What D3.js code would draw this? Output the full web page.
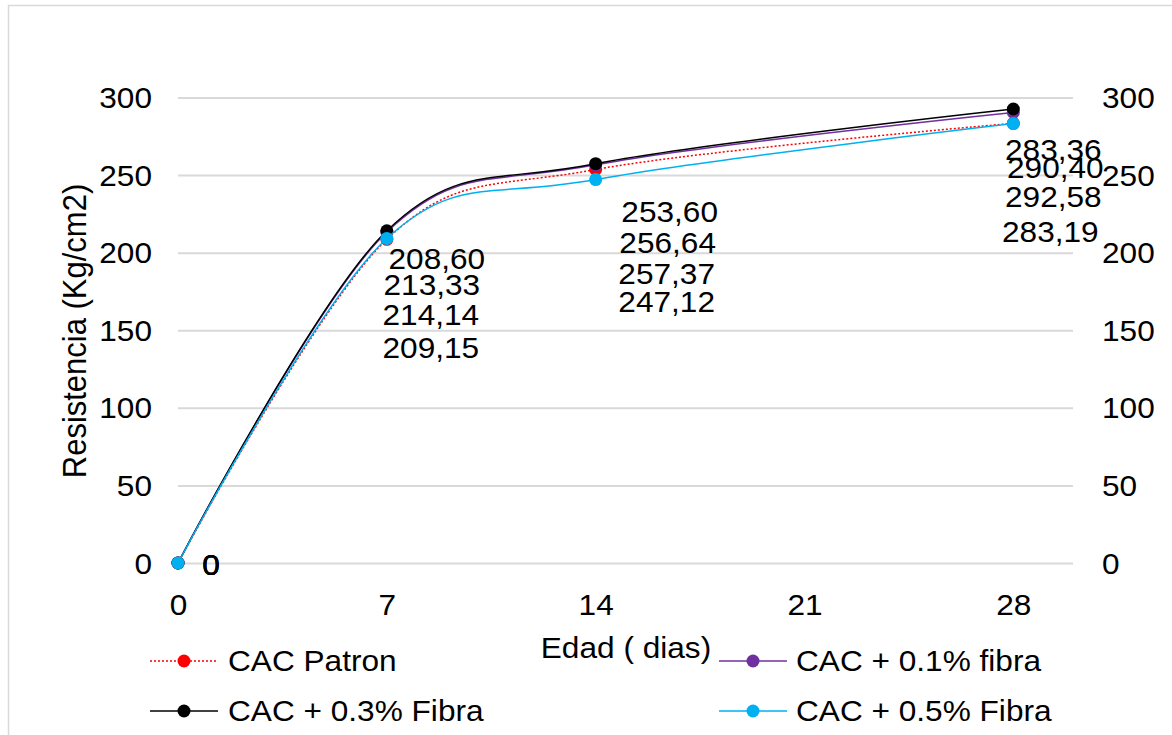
<!DOCTYPE html>
<html>
<head>
<meta charset="utf-8">
<script src="https://cdn.jsdelivr.net/npm/d3@7"></script>
<style>
  html, body { margin: 0; padding: 0; background: #fff; }
  svg { display: block; }
  text { font-family: "Liberation Sans", Arial, sans-serif; fill: #000; }
</style>
</head>
<body>
<svg id="chart" width="1172" height="735"></svg>
<script>
// Compressive strength (Kg/cm2) by curing age (days)
const ages = [0, 7, 14, 28];
const seriesNames = ["CAC Patron", "CAC + 0.1% fibra", "CAC + 0.3% Fibra", "CAC + 0.5% Fibra"];
const patron   = [0, 208.60, 253.60, 283.36];
const fibra01  = [0, 213.33, 256.64, 290.40];
const fibra03  = [0, 214.14, 257.37, 292.58];
const fibra05  = [0, 209.15, 247.12, 283.19];
const xTicks = [0, 7, 14, 21, 28];
const yTicks = [0, 50, 100, 150, 200, 250, 300];

const allValues = [patron, fibra01, fibra03, fibra05];

// Series styling
const colors = ["#ff0000", "#7030a0", "#000000", "#00b0f0"];
const dashes = ["2,2", null, null, null];

// Label placement (offset from each point, px) per series and age
const labelOffsets = [
  [[33, 2], [50, 20], [74, 42], [40, 27]],
  [[33, 2], [45, 53], [72, 78], [42, 55]],
  [[33, 2], [44, 84], [71, 110], [40, 88]],
  [[33, 2], [44, 109], [71, 122], [37, 108]]
];

const SX = 1.09;          // horizontal glyph stretch
const FS = 29;            // base font size
const svg = d3.select("#chart");

// Outer chart frame
svg.append("rect")
  .attr("x", 8.5).attr("y", 5.5)
  .attr("width", 1200).attr("height", 760)
  .attr("fill", "none").attr("stroke", "#d9d9d9").attr("stroke-width", 1.5);

const plotLeft = 178, plotRight = 1073, plotTop = 97.5, plotBottom = 563;
const x = d3.scaleLinear().domain([0, 30]).range([plotLeft, plotRight]);
const y = d3.scaleLinear().domain([0, 300]).range([plotBottom, plotTop]);

// Left axis with gridlines
const gLeft = svg.append("g").attr("transform", `translate(${plotLeft},0)`)
  .call(d3.axisLeft(y).tickValues(yTicks).tickSize(-(plotRight - plotLeft)).tickPadding(26));
gLeft.select(".domain").remove();
gLeft.selectAll(".tick line").attr("stroke", "#d9d9d9").attr("stroke-width", 2);
gLeft.selectAll(".tick text")
  .attr("font-size", FS).attr("x", -26 / SX).attr("dy", "0.35em")
  .attr("transform", `scale(${SX},1)`);

// Right axis (mirror labels)
const gRight = svg.append("g").attr("transform", `translate(${plotRight},0)`)
  .call(d3.axisRight(y).tickValues(yTicks).tickSize(0).tickPadding(29));
gRight.select(".domain").remove();
gRight.selectAll(".tick text")
  .attr("font-size", FS).attr("x", 29 / SX).attr("dy", "0.35em")
  .attr("transform", `scale(${SX},1)`);

// Bottom axis
const gBottom = svg.append("g").attr("transform", `translate(0,${plotBottom})`)
  .call(d3.axisBottom(x).tickValues(xTicks).tickSize(0).tickPadding(31));
gBottom.select(".domain").remove();
gBottom.selectAll(".tick text")
  .attr("font-size", FS).attr("transform", `scale(${SX},1)`);

// Axis titles
svg.append("text")
  .attr("transform", `translate(626,658) scale(${SX},1)`)
  .attr("text-anchor", "middle").attr("font-size", FS)
  .text("Edad ( dias)");
svg.append("text")
  .attr("transform", `translate(86,331) rotate(-90) scale(1,${SX})`)
  .attr("text-anchor", "middle").attr("font-size", 31)
  .text("Resistencia (Kg/cm2)");

// Smoothed lines and markers
const line = d3.line()
  .x((d, i) => x(ages[i]))
  .y(d => y(d))
  .curve(d3.curveCardinal.tension(0));

allValues.forEach((vals, s) => {
  const g = svg.append("g");
  g.append("path")
    .datum(vals)
    .attr("d", line)
    .attr("fill", "none")
    .attr("stroke", colors[s])
    .attr("stroke-width", 1.5)
    .attr("stroke-dasharray", dashes[s]);
  g.selectAll("circle")
    .data(vals)
    .join("circle")
    .attr("cx", (d, i) => x(ages[i]))
    .attr("cy", d => y(d))
    .attr("r", 6.5)
    .attr("fill", colors[s]);
});

// Data labels
const fmt = v => v === 0 ? "0" : v.toFixed(2).replace(".", ",");
allValues.forEach((vals, s) => {
  svg.append("g").selectAll("text")
    .data(vals)
    .join("text")
    .attr("transform", (d, i) =>
      `translate(${x(ages[i]) + labelOffsets[s][i][0]},${y(d) + labelOffsets[s][i][1]}) scale(${SX},1)`)
    .attr("text-anchor", "middle")
    .attr("dy", "0.35em")
    .attr("font-size", FS)
    .text(fmt);
});

// Legend (2 x 2)
const legendPos = [[150, 661], [719, 661], [150, 711], [719, 711]];
seriesNames.forEach((name, s) => {
  const [lx, ly] = legendPos[s];
  const g = svg.append("g").attr("transform", `translate(${lx},${ly})`);
  g.append("line")
    .attr("x1", 0).attr("x2", 68).attr("y1", 0).attr("y2", 0)
    .attr("stroke", colors[s]).attr("stroke-width", 1.5)
    .attr("stroke-dasharray", dashes[s]);
  g.append("circle").attr("cx", 34).attr("cy", 0).attr("r", 6.5).attr("fill", colors[s]);
  g.append("text")
    .attr("transform", `translate(${s % 2 === 0 ? 78 : 77},0) scale(${SX},1)`)
    .attr("dy", "0.35em").attr("font-size", FS)
    .text(name);
});
</script>
</body>
</html>
